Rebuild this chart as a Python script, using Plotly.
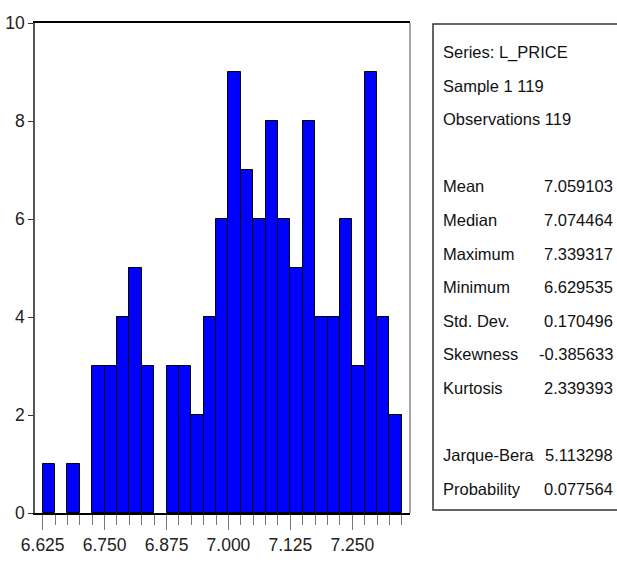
import plotly.graph_objects as go

# Histogram of L_PRICE: lower bin edges (width 0.025) and observation counts
bin_lower_edges = [6.625, 6.650, 6.675, 6.700, 6.725, 6.750, 6.775, 6.800, 6.825, 6.850,
                   6.875, 6.900, 6.925, 6.950, 6.975, 7.000, 7.025, 7.050, 7.075, 7.100,
                   7.125, 7.150, 7.175, 7.200, 7.225, 7.250, 7.275, 7.300, 7.325]
counts = [1, 0, 1, 0, 3, 3, 4, 5, 3, 0,
          3, 3, 2, 4, 6, 9, 7, 6, 8, 6,
          5, 8, 4, 4, 6, 3, 9, 4, 2]
bin_width = 0.025

x_tick_values = [6.625, 6.750, 6.875, 7.000, 7.125, 7.250]
x_tick_labels = ["6.625", "6.750", "6.875", "7.000", "7.125", "7.250"]
y_tick_values = [0, 2, 4, 6, 8, 10]

# Descriptive statistics panel
stat_header = ["Series: L_PRICE", "Sample 1 119", "Observations 119"]
stat_names = ["Mean", "Median", "Maximum", "Minimum", "Std. Dev.", "Skewness", "Kurtosis"]
stat_values = ["7.059103", "7.074464", "7.339317", "6.629535", "0.170496", "-0.385633", "2.339393"]
test_names = ["Jarque-Bera", "Probability"]
test_values = ["5.113298", "0.077564"]

FONT = "Liberation Sans Narrow, Arial Narrow, Liberation Sans, Arial, sans-serif"
W, H = 617, 562
L, R, T, B = 35, 410, 23, 513  # plot area in pixels


def px(xp):
    return (xp - L) / (R - L)


def py(yp):
    return (B - yp) / (B - T)


centers = [e + bin_width / 2 for e in bin_lower_edges]
# empty bins get no outline
outline_widths = [1 if c > 0 else 0 for c in counts]

fig = go.Figure()
fig.add_trace(go.Bar(
    x=centers, y=counts, width=bin_width,
    marker=dict(color="#0000FF", line=dict(color="#000000", width=outline_widths)),
    hoverinfo="x+y",
))

annotations = []
row_h = 33.6
first_row = 52
rows = []
for i, t in enumerate(stat_header):
    rows.append((i, t, None))
for i, (n, v) in enumerate(zip(stat_names, stat_values)):
    rows.append((4 + i, n, v))
for i, (n, v) in enumerate(zip(test_names, test_values)):
    rows.append((12 + i, n, v))

STAT_SIZE = 16.5
for idx, name, val in rows:
    yc = py(first_row + idx * row_h)
    annotations.append(dict(x=px(441), y=yc, xref="paper", yref="paper", text=name,
                            showarrow=False, xanchor="left", yanchor="middle",
                            font=dict(family=FONT, size=STAT_SIZE, color="#111")))
    if val is not None:
        annotations.append(dict(x=px(615), y=yc, xref="paper", yref="paper", text=val,
                                showarrow=False, xanchor="right", yanchor="middle",
                                font=dict(family=FONT, size=STAT_SIZE, color="#111")))

shapes = [
    # statistics box
    dict(type="rect", xref="paper", yref="paper", x0=px(433), x1=px(640), y0=py(510), y1=py(24),
         line=dict(color="#333", width=1.5), fillcolor="rgba(0,0,0,0)", layer="above"),
    # right frame of histogram
    dict(type="line", xref="paper", yref="paper", x0=1, x1=1, y0=0, y1=1,
         line=dict(color="#888", width=1.5), layer="above"),
]

fig.update_layout(
    width=W, height=H,
    margin=dict(l=L, r=W - R, t=T, b=H - B, autoexpand=False),
    paper_bgcolor="white", plot_bgcolor="white",
    showlegend=False, bargap=0,
    font=dict(family=FONT, size=17, color="#222"),
    annotations=annotations, shapes=shapes,
    xaxis=dict(
        range=[6.6095, 7.3665], automargin=False,
        tickmode="array", tickvals=x_tick_values, ticktext=x_tick_labels,
        ticks="outside", ticklen=15, tickwidth=1, tickcolor="#777",
        minor=dict(tickmode="linear", tick0=6.625, dtick=0.025, ticks="outside",
                   ticklen=10, tickwidth=1, tickcolor="#777", showgrid=False),
        showgrid=False, zeroline=False,
        showline=True, linecolor="#000", linewidth=2, mirror=True,
        tickfont=dict(family=FONT, size=17.5, color="#222"),
    ),
    yaxis=dict(
        range=[0, 10], automargin=False,
        tickmode="array", tickvals=y_tick_values,
        ticks="outside", ticklen=5, tickwidth=1, tickcolor="#333",
        showgrid=False, zeroline=False,
        showline=True, linecolor="#555", linewidth=1.5,
        tickfont=dict(family=FONT, size=17.5, color="#222"),
    ),
)

fig.write_html("out.html")
